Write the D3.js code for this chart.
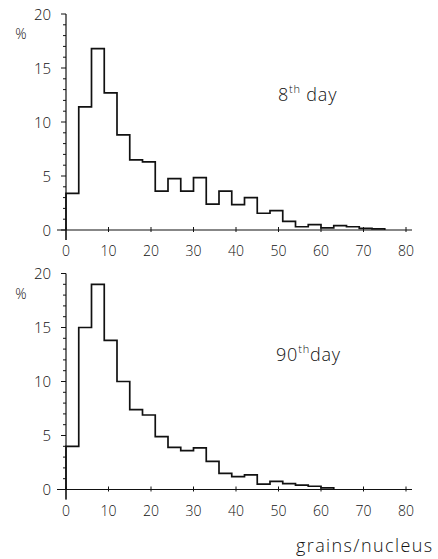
<!DOCTYPE html>
<html>
<head>
<meta charset="utf-8">
<script src="https://cdn.jsdelivr.net/npm/d3@7"></script>
<style>
  html, body { margin: 0; padding: 0; background: #fff; }
  svg { display: block; }
  text { font-family: "Open Sans", "DejaVu Sans", sans-serif; font-weight: 300; fill: #111; }
</style>
</head>
<body>
<svg id="chart" width="438" height="559"></svg>
<script>
// Bin lower edges (grains/nucleus), bin width 3
const binStarts = [0,3,6,9,12,15,18,21,24,27,30,33,36,39,42,45,48,51,54,57,60,63,66,69,72];
const binWidth = 3;
// Percent of nuclei per bin
const day8Values = [3.4,11.4,16.8,12.7,8.8,6.5,6.3,3.6,4.75,3.6,4.85,2.4,3.6,2.35,3.0,1.55,1.8,0.8,0.3,0.5,0.2,0.4,0.3,0.15,0.1];
const day90Values = [4.0,15.0,19.0,13.8,10.0,7.4,6.9,4.9,3.9,3.6,3.85,2.6,1.5,1.2,1.35,0.5,0.75,0.55,0.4,0.3,0.15];
const xTicks = [0,10,20,30,40,50,60,70,80];
const yTicks = [0,5,10,15,20];
const yMinorTicks = d3.range(0, 21, 1);

const svg = d3.select("#chart");

const x = d3.scaleLinear().domain([0, 80]).range([66, 406]);

function panel(values, y0, label, supText, restText, labelX, labelY) {
  const y = d3.scaleLinear().domain([0, 20]).range([y0, y0 - 216]);
  const g = svg.append("g");

  // x axis line
  g.append("line").attr("x1", 57).attr("x2", 412)
    .attr("y1", y(0)).attr("y2", y(0))
    .attr("stroke", "#111").attr("stroke-width", 1.2);
  // x ticks
  g.selectAll(".xt").data(xTicks).enter().append("line")
    .attr("x1", d => x(d)).attr("x2", d => x(d))
    .attr("y1", y(0) - 3).attr("y2", d => d === 0 ? y(0) + 10 : y(0) + 2)
    .attr("stroke", "#111").attr("stroke-width", 1);
  g.selectAll(".xl").data(xTicks).enter().append("text")
    .attr("x", d => x(d)).attr("y", y(0) + 26)
    .attr("text-anchor", "middle").attr("font-size", 14)
    .text(d => d);

  // y axis line
  g.append("line").attr("x1", x(0)).attr("x2", x(0))
    .attr("y1", y(20)).attr("y2", y(0) + 10)
    .attr("stroke", "#111").attr("stroke-width", 1.2);
  // minor ticks
  g.selectAll(".ym").data(yMinorTicks).enter().append("line")
    .attr("x1", d => d % 5 === 0 ? x(0) - 5 : x(0) - 3).attr("x2", x(0))
    .attr("y1", d => y(d)).attr("y2", d => y(d))
    .attr("stroke", "#111").attr("stroke-width", 1);
  g.selectAll(".yl").data(yTicks).enter().append("text")
    .attr("x", 51).attr("y", d => y(d) + 5.5)
    .attr("text-anchor", "end").attr("font-size", 15)
    .text(d => d);
  g.append("text").attr("x", 21).attr("y", y(20) + 25)
    .attr("text-anchor", "middle").attr("font-size", 14).text("%");

  // histogram step line
  const pts = [[0, 0]];
  values.forEach((v, i) => {
    pts.push([binStarts[i], v]);
    pts.push([binStarts[i] + binWidth, v]);
  });
  pts.push([binStarts[values.length - 1] + binWidth, 0]);
  const line = d3.line().x(d => x(d[0])).y(d => y(d[1]));
  g.append("path").attr("d", line(pts))
    .attr("fill", "none").attr("stroke", "#111").attr("stroke-width", 1.7)
    .attr("stroke-linejoin", "miter");

  // label
  const t = g.append("text").attr("x", labelX).attr("y", labelY)
    .attr("font-size", 18).attr("letter-spacing", 0.8);
  t.append("tspan").text(label);
  t.append("tspan").attr("font-size", 11).attr("dy", -8).text(supText);
  t.append("tspan").attr("dy", 8).text(restText);
}

panel(day8Values, 230, "8", "th", " day", 278, 101);
panel(day90Values, 489.5, "90", "th", "day", 276, 361);

svg.append("text").attr("x", 296).attr("y", 552)
  .attr("font-size", 18).attr("letter-spacing", 1.4).text("grains/nucleus");
</script>
</body>
</html>
